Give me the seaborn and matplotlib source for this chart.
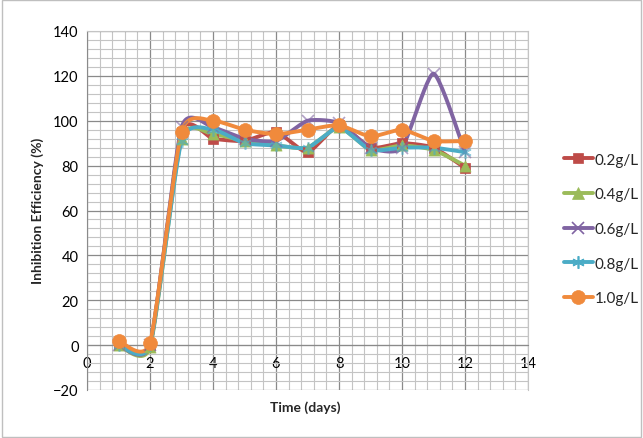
import numpy as np
import pandas as pd
import matplotlib
matplotlib.use('Agg')
import matplotlib.pyplot as plt
import seaborn as sns
from matplotlib.lines import Line2D
from matplotlib.patches import Rectangle
from matplotlib.ticker import MultipleLocator

# ---------------------------------------------------------
# data
# ---------------------------------------------------------
days = [1, 2, 3, 4, 5, 6, 7, 8, 9, 10, 11, 12]
ie_02 = [0, 0, 95, 92, 91, 95, 86, 98, 88, 90, 88, 79]
ie_04 = [0, -1, 92, 94, 91, 89, 88, 97, 87, 89, 87, 80]
ie_06 = [0, 0, 97, 97, 92, 91, 100, 99, 88, 88, 121, 86]
ie_08 = [0, 0, 91, 96, 90, 89, 88, 97, 87, 88, 88, 86]
ie_10 = [2, 1, 95, 100, 96, 94, 96, 98, 93, 96, 91, 91]

labels = ['0.2g/L', '0.4g/L', '0.6g/L', '0.8g/L', '1.0g/L']
series = [ie_02, ie_04, ie_06, ie_08, ie_10]
colors = ['#BE4B48', '#9BBB59', '#8064A2', '#4BACC6', '#F08A3C']
markers = ['s', '^', 'x', (6, 2, 0), 'o']
msizes = [7, 8, 8, 9, 10]


def smooth_path(x, y, n=24, tension=0.3):
    # cubic Hermite curve through the points (like Excel "smoothed line")
    x = np.asarray(x, float)
    y = np.asarray(y, float)
    px = np.concatenate([[x[0]], x, [x[-1]]])
    py = np.concatenate([[y[0]], y, [y[-1]]])
    t = np.linspace(0, 1, n, endpoint=False)
    h00 = 2 * t ** 3 - 3 * t ** 2 + 1
    h10 = t ** 3 - 2 * t ** 2 + t
    h01 = -2 * t ** 3 + 3 * t ** 2
    h11 = t ** 3 - t ** 2
    xs, ys = [], []
    for i in range(1, len(px) - 2):
        for arr, out in ((px, xs), (py, ys)):
            p0, p1, p2, p3 = arr[i - 1], arr[i], arr[i + 1], arr[i + 2]
            m1 = tension * (p2 - p0)
            m2 = tension * (p3 - p1)
            out.extend(h00 * p1 + h10 * m1 + h01 * p2 + h11 * m2)
    xs.append(x[-1])
    ys.append(y[-1])
    return np.array(xs), np.array(ys)


sns.set_style('white')
plt.rcParams['font.family'] = ['Lato', 'DejaVu Sans']

fig = plt.figure(figsize=(6.43, 4.39), dpi=100)
ax = fig.add_axes([87 / 643, 1 - 391 / 439, (528 - 87) / 643, (391 - 32) / 439])

for lab, vals, c, m, ms in zip(labels, series, colors, markers, msizes):
    sx, sy = smooth_path(days, vals)
    curve = pd.DataFrame({'x': sx, 'y': sy})
    sns.lineplot(data=curve, x='x', y='y', ax=ax, color=c, linewidth=2.8,
                 sort=False, estimator=None, zorder=3)
    pts = pd.DataFrame({'x': days, 'y': vals})
    if m in ('x', (6, 2, 0)):
        ax.plot(pts['x'], pts['y'], linestyle='none', marker=m, markersize=ms,
                markeredgecolor=c, markeredgewidth=1.2, alpha=0.6, zorder=4)
    else:
        sns.scatterplot(data=pts, x='x', y='y', ax=ax, color=c, marker=m,
                        s=ms ** 2, edgecolor=c, linewidth=0.5, zorder=4)

ax.set_xlim(0, 14)
ax.set_ylim(-20, 140)
ax.xaxis.set_major_locator(MultipleLocator(2))
ax.xaxis.set_minor_locator(MultipleLocator(0.4))
ax.yaxis.set_major_locator(MultipleLocator(20))
ax.yaxis.set_minor_locator(MultipleLocator(4))
ax.grid(which='major', color='#8a8a8a', linewidth=0.9, zorder=0)
ax.grid(which='minor', color='#c4c4c4', linewidth=0.8, zorder=0)
ax.set_axisbelow(True)

for side in ['top', 'right']:
    ax.spines[side].set_color('#c4c4c4')
ax.spines['left'].set_color('#8a8a8a')
ax.spines['bottom'].set_position(('data', 0))
ax.spines['bottom'].set_color('#8a8a8a')
ax.tick_params(axis='both', which='both', length=0, labelsize=10.5, colors='black')
ax.tick_params(axis='x', pad=8)
ax.tick_params(axis='y', pad=6)

ax.set_xlabel('')
ax.set_ylabel('')
fig.text(305 / 643, 1 - 408 / 439, 'Time (days)', ha='center', va='center',
         fontsize=10, fontweight='bold')
fig.text(38 / 643, 1 - 211 / 439, 'Inhibition Efficiency (%)', ha='center',
         va='center', rotation=90, fontsize=10, fontweight='bold')

handles = []
for lab, c, m, ms in zip(labels, colors, markers, msizes):
    filled = m not in ('x', (6, 2, 0))
    handles.append(Line2D([0], [0], color=c, linewidth=2.8, marker=m,
                          markersize=ms, markerfacecolor=c if filled else 'none',
                          markeredgecolor=c, markeredgewidth=1.2 if not filled else 0.5))
fig.legend(handles=handles, labels=labels, loc='upper left',
           bbox_to_anchor=(550 / 643, 1 - 140 / 439), frameon=False,
           fontsize=11, handlelength=1.9, handletextpad=0.1, labelspacing=1.35)

fig.patches.append(Rectangle((0.003, 0.003), 0.994, 0.994, transform=fig.transFigure,
                             fill=False, edgecolor='#bfbfbf', linewidth=1))

fig.savefig('out.png', dpi=100)
